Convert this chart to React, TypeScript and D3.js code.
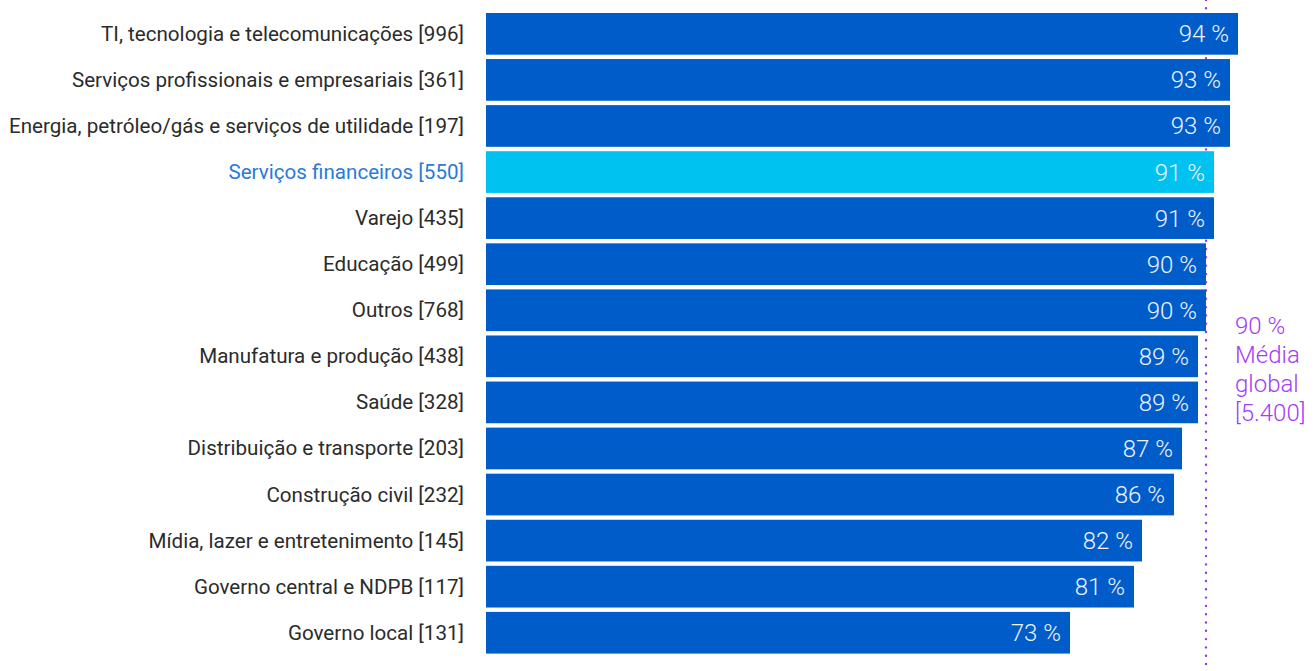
import React from "react";
import * as d3 from "d3";

const categories = [
  "TI, tecnologia e telecomunicações [996]",
  "Serviços profissionais e empresariais [361]",
  "Energia, petróleo/gás e serviços de utilidade [197]",
  "Serviços financeiros [550]",
  "Varejo [435]",
  "Educação [499]",
  "Outros [768]",
  "Manufatura e produção [438]",
  "Saúde [328]",
  "Distribuição e transporte [203]",
  "Construção civil [232]",
  "Mídia, lazer e entretenimento [145]",
  "Governo central e NDPB [117]",
  "Governo local [131]",
];
const values = [94, 93, 93, 91, 91, 90, 90, 89, 89, 87, 86, 82, 81, 73];
const highlighted = "Serviços financeiros [550]";
const globalAverage = 90;
const averageLabel = ["90 %", "Média", "global", "[5.400]"];

const W = 1314;
const H = 671;

export default function App() {
  const x = d3.scaleLinear().domain([0, 100]).range([486, 1286]);
  const y = d3
    .scaleBand<string>()
    .domain(categories)
    .range([10.8, 10.8 + 14 * 46.07])
    .paddingInner(0.095)
    .paddingOuter(0.0475);
  const font = "Roboto, 'Noto Sans', sans-serif";
  const avgX = x(globalAverage);

  return (
    <svg
      width={W}
      height={H}
      style={{ position: "absolute", left: 0, top: 0, background: "#fff" }}
      fontFamily={font}
    >
      <line
        x1={avgX}
        x2={avgX}
        y1={0}
        y2={H}
        stroke="#a030f0"
        strokeWidth={2.4}
        strokeDasharray="0 8.3"
        strokeLinecap="round"
      />
      {categories.map((c, i) => {
        const yy = y(c)!;
        const bw = y.bandwidth();
        const hi = c === highlighted;
        return (
          <g key={c}>
            <rect
              x={x(0)}
              y={yy}
              width={x(values[i]) - x(0)}
              height={bw}
              fill={hi ? "#00c2f0" : "#005cc8"}
            />
            <text
              x={464}
              y={yy + bw / 2 + 7}
              textAnchor="end"
              fontSize={20.6}
              fill={hi ? "#2a7ad6" : "#2b2b2b"}
            >
              {c}
            </text>
            <text
              x={x(values[i]) - 9}
              y={yy + bw / 2 + 8.5}
              textAnchor="end"
              fontSize={24}
              fontWeight={300}
              fill="#eef3ff"
            >
              {values[i]} %
            </text>
          </g>
        );
      })}
      {averageLabel.map((t, i) => (
        <text
          key={t}
          x={avgX + 29}
          y={334 + i * 29}
          fontSize={24}
          fontWeight={300}
          fill="#a43cf2"
        >
          {t}
        </text>
      ))}
    </svg>
  );
}
